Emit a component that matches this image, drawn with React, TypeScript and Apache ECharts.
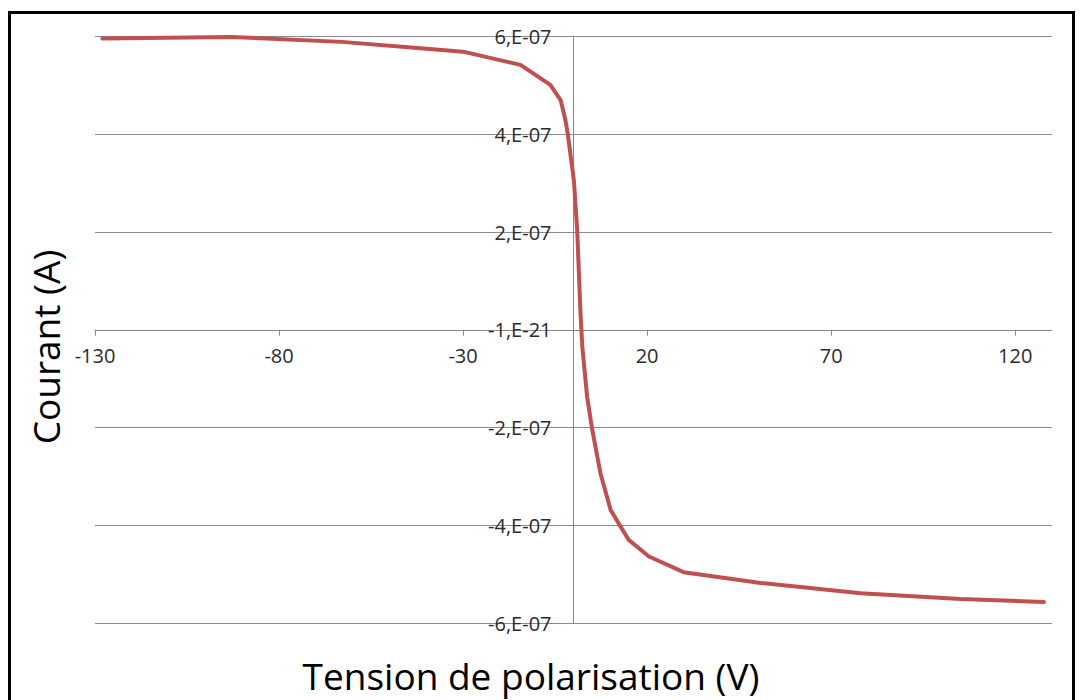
import React, { useEffect, useRef } from "react";
import * as echarts from "echarts";

const voltages = [-128, -93, -63, -41.6, -30, -14.4, -6.3, -3.5, -2.2, -1.6, 0.1, 1, 1.9, 2.4, 3.7, 5.1, 7.3, 10.1, 15, 20.5, 29.9, 50.9, 78, 105.2, 127.8];
const currents = [5.96e-7, 5.99e-7, 5.89e-7, 5.76e-7, 5.69e-7, 5.42e-7, 5.01e-7, 4.7e-7, 4.29e-7, 4.03e-7, 3.06e-7, 2.04e-7, 3.4e-8, -3.5e-8, -1.37e-7, -2.05e-7, -2.93e-7, -3.69e-7, -4.3e-7, -4.64e-7, -4.96e-7, -5.18e-7, -5.39e-7, -5.51e-7, -5.57e-7];
const yTickValues = [-6e-7, -4e-7, -2e-7, 0, 2e-7, 4e-7, 6e-7];
const yTickLabels = ["-6,E-07", "-4,E-07", "-2,E-07", "-1,E-21", "2,E-07", "4,E-07", "6,E-07"];
const xTitle = "Tension de polarisation (V)";
const yTitle = "Courant (A)";

const X_MIN = -130;
const X_MAX = 130;
const Y_MIN = -6e-7;
const Y_MAX = 6e-7;

export default function App() {
  const ref = useRef<HTMLDivElement>(null);
  useEffect(() => {
    const chart = echarts.init(ref.current!, null, { renderer: "svg" });
    const labelFont = "'Open Sans', sans-serif";
    const W = 1080;
    const H = 700;
    const gl = 95, gr = 28, gt = 36.5, gb = 77;
    const gw = W - gl - gr;
    const gh = H - gt - gb;
    // move axes to cross at zero
    const xZeroPx = gl + ((0 - X_MIN) / (X_MAX - X_MIN)) * gw;
    const yZeroPx = gt + ((Y_MAX - 0) / (Y_MAX - Y_MIN)) * gh;
    const yAxisOffset = -(xZeroPx - gl);
    const xAxisOffset = -(gt + gh - yZeroPx);
    chart.setOption({
      animation: false,
      backgroundColor: "#ffffff",
      grid: { left: gl, right: gr, top: gt, bottom: gb, containLabel: false },
      xAxis: {
        type: "value",
        min: X_MIN,
        max: X_MAX,
        interval: 50,
        position: "bottom",
        offset: xAxisOffset,
        axisLine: { onZero: false, lineStyle: { color: "#888888", width: 1 } },
        axisTick: { show: true, length: 6, inside: false, lineStyle: { color: "#888888" } },
        axisLabel: {
          margin: 16,
          fontSize: 20,
          color: "#2b2b2b",
          fontFamily: labelFont,
          showMaxLabel: false,
          formatter: (v: number) => (v > 125 ? "" : String(v)),
        },
        splitLine: { show: false },
      },
      yAxis: {
        type: "value",
        min: Y_MIN,
        max: Y_MAX,
        interval: 2e-7,
        position: "left",
        offset: yAxisOffset,
        axisLine: { show: true, onZero: false, lineStyle: { color: "#888888", width: 1 } },
        axisTick: { show: false },
        axisLabel: {
          margin: 22,
          fontSize: 20,
          color: "#2b2b2b",
          fontFamily: labelFont,
          formatter: (v: number) => {
            let best = 0;
            for (let i = 0; i < yTickValues.length; i++) {
              if (Math.abs(yTickValues[i] - v) < Math.abs(yTickValues[best] - v)) best = i;
            }
            return yTickLabels[best];
          },
        },
        splitLine: { show: true, lineStyle: { color: "#8c8c8c", width: 1 } },
      },
      series: [
        {
          type: "line",
          data: voltages.map((v, i) => [v, currents[i]]),
          showSymbol: false,
          symbol: "none",
          smooth: false,
          lineStyle: { color: "#C0504D", width: 4, cap: "round", join: "round" },
          z: 3,
        },
      ],
      graphic: [
        {
          type: "rect",
          shape: { x: 9.5, y: 12.5, width: 1064, height: 720 },
          style: { fill: "none", stroke: "#000000", lineWidth: 3 },
          silent: true,
          z: 10,
        },
        {
          type: "text",
          x: 531,
          y: 675,
          style: {
            text: xTitle,
            font: "37px 'Open Sans', sans-serif",
            fill: "#000000",
            align: "center",
            verticalAlign: "middle",
          },
        },
        {
          type: "text",
          x: 45,
          y: 347,
          rotation: Math.PI / 2,
          style: {
            text: yTitle,
            font: "37px 'Open Sans', sans-serif",
            fill: "#000000",
            align: "center",
            verticalAlign: "middle",
          },
        },
      ],
    });
    return () => chart.dispose();
  }, []);
  return (
    <div
      ref={ref}
      style={{ position: "absolute", left: 0, top: 0, width: 1080, height: 700 }}
    />
  );
}
